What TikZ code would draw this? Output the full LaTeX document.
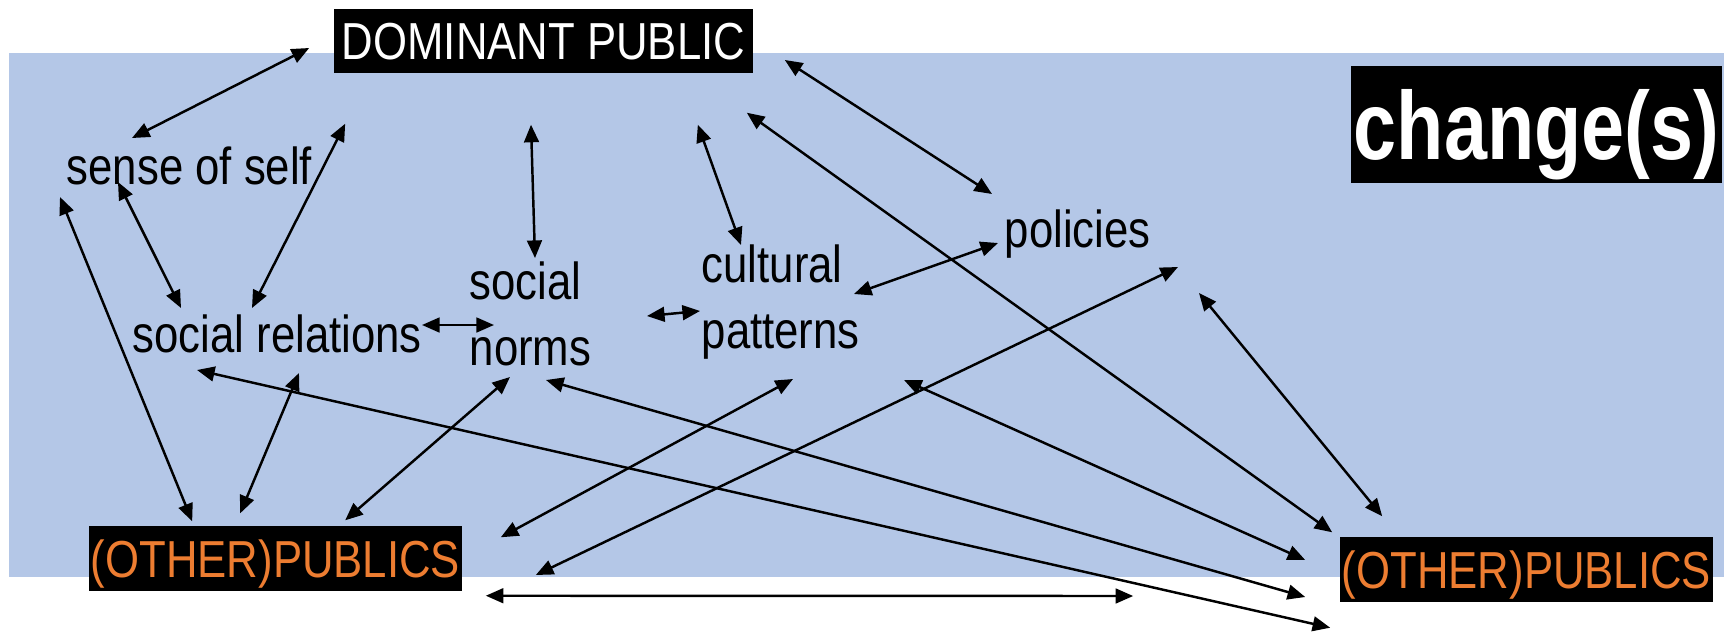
\documentclass[tikz,border=0pt]{standalone}
\usepackage{fontspec}
\newfontfamily\narrowsans[FakeStretch=0.84]{Liberation Sans}
\newfontfamily\chgsans[FakeStretch=0.80]{Liberation Sans}
\usetikzlibrary{calc,arrows.meta}
\definecolor{bgblue}{RGB}{180,199,231}
\definecolor{puborange}{RGB}{237,125,49}

\begin{document}
\begin{tikzpicture}[x=0.01cm,y=-0.01cm,
    lbl/.style={font=\narrowsans\fontsize{14.8}{18.5}\selectfont,inner sep=0pt,anchor=base west,align=left},
    blk/.style={fill=black,inner sep=0pt,text depth=0pt,font=\narrowsans\fontsize{14.8}{18.5}\selectfont},
    link/.style={{Triangle[length=5pt,width=4.2pt]}-{Triangle[length=5pt,width=4.2pt]},line width=0.7pt}]
  \useasboundingbox (0,0) rectangle (1724,636);
  \fill[bgblue] (9,53) rectangle (1724,577);
  % boxes
  \node[blk,text=white,minimum width=4.19cm,minimum height=0.64cm] (dom) at (543.5,41) {DOMINANT PUBLIC};
  \node[blk,text=puborange,minimum width=3.73cm,minimum height=0.65cm] (opl) at (275.5,558.5) {(OTHER)PUBLICS};
  \node[blk,text=puborange,minimum width=3.73cm,minimum height=0.65cm] (opr) at (1526.5,569.5) {(OTHER)PUBLICS};
  \node[blk,text=white,font=\chgsans\bfseries\fontsize{27.5}{30}\selectfont,minimum width=3.71cm,minimum height=1.17cm] (chg) at (1536.5,124.5) {change(s)};
  % labels
  \node[lbl] (self) at (66,184) {sense of self};
  \node[lbl] (rel) at (132,352) {social relations};
  \node[lbl] (norms) at (469,365) {social\\norms};
  \node[lbl] (cult) at (701,348) {cultural\\patterns};
  \node[lbl] (pol) at (1004,247) {policies};
  % links
  \draw[link] ($(dom.west)+(-24,7)$) -- ($(self.base west)+(66,-46)$);
  \draw[link] ($(self.base west)+(52,-2)$) -- ($(rel.base west)+(49,-44)$);
  \draw[link] ($(rel.base west)+(120,-44)$) -- ($(dom.south west)+(12,50)$);
  \draw[link] ($(dom.south)+(-12.5,51)$) -- ($(norms.base west)+(66,-107)$);
  \draw[link] ($(dom.south east)+(-56,51)$) -- ($(cult.base west)+(40,-103)$);
  \draw[link] ($(dom.east)+(31,19)$) -- ($(pol.base west)+(-12,-53)$);
  \draw[link] ($(dom.south east)+(-7,39)$) -- ($(opr.north west)+(-7,-4)$);
  \draw[link] ($(cult.base west)+(153,-54)$) -- ($(pol.base west)+(-6,-4)$);
  \draw[link] ($(rel.base west)+(290,-27)$) -- ($(norms.base west)+(25,-40)$);
  \draw[link] ($(norms.base west)+(178,-49)$) -- ($(cult.base west)+(-1,-37)$);
  \draw[link] ($(self.base west)+(-6,13)$) -- ($(opl.north west)+(104,-4)$);
  \draw[link] ($(rel.base west)+(167,21)$) -- ($(opl.north west)+(152,-12)$);
  \draw[link] ($(norms.base west)+(41,12)$) -- ($(opl.north west)+(257,-5)$);
  \draw[link] ($(cult.base west)+(92,31)$) -- ($(opl.north east)+(38,12)$);
  \draw[link] ($(pol.base west)+(174,20)$) -- ($(opl.east)+(73,16.5)$);
  \draw[link] ($(pol.base west)+(195,46)$) -- ($(opr.north west)+(43,-20)$);
  \draw[link] ($(rel.base west)+(65,18)$) -- ($(opr.south west)+(-9,25)$);
  \draw[link] ($(norms.base west)+(77,15)$) -- ($(opr.west)+(-34,27.5)$);
  \draw[link] ($(cult.base west)+(203,32)$) -- ($(opr.west)+(-34,-9.5)$);
  \draw[link] ($(opl.south east)+(23,4)$) -- ($(opr.west)+(-206,26.5)$);
\end{tikzpicture}
\end{document}
